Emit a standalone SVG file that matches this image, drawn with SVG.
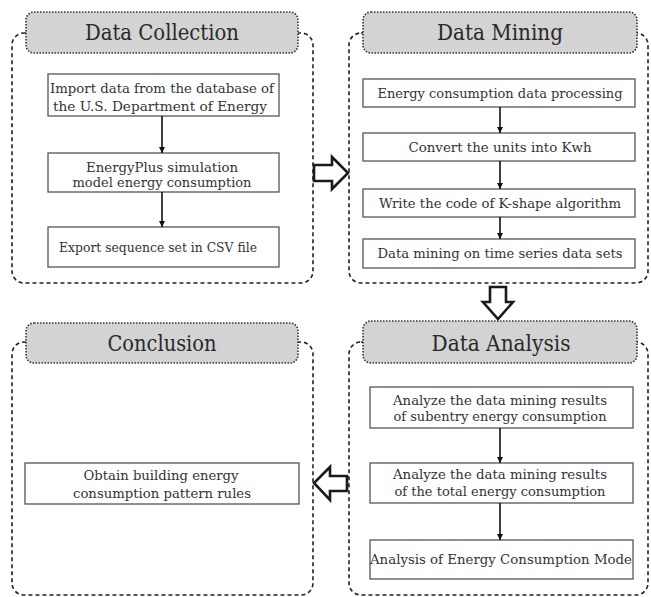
<svg xmlns="http://www.w3.org/2000/svg" width="651" height="597" viewBox="0 0 651 597">
<defs>
<style>
.outer{fill:none;stroke:#222;stroke-width:1.6;stroke-dasharray:4 3}
.hdr{fill:#d3d3d3;stroke:#333;stroke-width:1.6;stroke-dasharray:1.5 1.5}
.box{fill:#fff;stroke:#555;stroke-width:1.3}
.ht{font-family:"DejaVu Serif","Liberation Serif",serif;font-size:22px;fill:#2a2a2a;text-anchor:middle}
.bt{font-family:"DejaVu Serif","Liberation Serif",serif;font-size:13.5px;fill:#333;text-anchor:middle}
.ln{stroke:#111;stroke-width:1.6;fill:none;marker-end:url(#ah)}
.blk{fill:#fff;stroke:#1a1a1a;stroke-width:2.6;stroke-linejoin:miter}
</style>
<marker id="ah" viewBox="0 0 10 10" refX="10" refY="5" markerWidth="6" markerHeight="6" markerUnits="userSpaceOnUse" orient="auto">
<path d="M0,0 L10,5 L0,10 z" fill="#111"/>
</marker>
</defs>

<g id="data-collection">
<rect class="outer" x="12" y="33" width="301" height="250" rx="12"/>
<rect class="hdr" x="26" y="12" width="272" height="41" rx="8"/>
<text class="ht" x="162" y="40" textLength="154" lengthAdjust="spacingAndGlyphs">Data Collection</text>
<rect class="box" x="48" y="74" width="231" height="42"/>
<text class="bt" x="162" y="93" textLength="224" lengthAdjust="spacingAndGlyphs">Import data from the database of</text>
<text class="bt" x="160" y="111" textLength="214" lengthAdjust="spacingAndGlyphs">the U.S. Department of Energy</text>
<rect class="box" x="48" y="153" width="231" height="39"/>
<text class="bt" x="162" y="172" textLength="152" lengthAdjust="spacingAndGlyphs">EnergyPlus simulation</text>
<text class="bt" x="162" y="187" textLength="179" lengthAdjust="spacingAndGlyphs">model energy consumption</text>
<rect class="box" x="48" y="227" width="231" height="40"/>
<text class="bt" x="158" y="252" textLength="198" lengthAdjust="spacingAndGlyphs">Export sequence set in CSV file</text>
</g>

<g id="data-mining">
<rect class="outer" x="349" y="33" width="299" height="250" rx="12"/>
<rect class="hdr" x="363" y="12" width="274" height="41" rx="8"/>
<text class="ht" x="500" y="40" textLength="126" lengthAdjust="spacingAndGlyphs">Data Mining</text>
<rect class="box" x="363" y="79" width="272" height="28"/>
<text class="bt" x="500" y="98" textLength="245" lengthAdjust="spacingAndGlyphs">Energy consumption data processing</text>
<rect class="box" x="363" y="133" width="272" height="28"/>
<text class="bt" x="500" y="152" textLength="183" lengthAdjust="spacingAndGlyphs">Convert the units into Kwh</text>
<rect class="box" x="363" y="189" width="272" height="28"/>
<text class="bt" x="500" y="208" textLength="242" lengthAdjust="spacingAndGlyphs">Write the code of K-shape algorithm</text>
<rect class="box" x="363" y="239" width="272" height="29"/>
<text class="bt" x="500" y="258" textLength="245" lengthAdjust="spacingAndGlyphs">Data mining on time series data sets</text>
</g>

<g id="data-analysis">
<rect class="outer" x="349" y="342" width="299" height="253" rx="12"/>
<rect class="hdr" x="363" y="321" width="274" height="42" rx="8"/>
<text class="ht" x="501" y="351" textLength="139" lengthAdjust="spacingAndGlyphs">Data Analysis</text>
<rect class="box" x="370" y="387" width="263" height="41"/>
<text class="bt" x="500" y="405" textLength="214" lengthAdjust="spacingAndGlyphs">Analyze the data mining results</text>
<text class="bt" x="500" y="421" textLength="213" lengthAdjust="spacingAndGlyphs">of subentry energy consumption</text>
<rect class="box" x="370" y="463" width="263" height="40"/>
<text class="bt" x="500" y="479" textLength="214" lengthAdjust="spacingAndGlyphs">Analyze the data mining results</text>
<text class="bt" x="500" y="496" textLength="211" lengthAdjust="spacingAndGlyphs">of the total energy consumption</text>
<rect class="box" x="370" y="540" width="263" height="39"/>
<text class="bt" x="501" y="564" textLength="262" lengthAdjust="spacingAndGlyphs">Analysis of Energy Consumption Mode</text>
</g>

<g id="conclusion">
<rect class="outer" x="12" y="342" width="301" height="253" rx="12"/>
<rect class="hdr" x="26" y="323" width="272" height="40" rx="8"/>
<text class="ht" x="162" y="351" textLength="109" lengthAdjust="spacingAndGlyphs">Conclusion</text>
<rect class="box" x="25" y="463" width="274" height="41"/>
<text class="bt" x="161" y="480" textLength="155" lengthAdjust="spacingAndGlyphs">Obtain building energy</text>
<text class="bt" x="162" y="498" textLength="178" lengthAdjust="spacingAndGlyphs">consumption pattern rules</text>
</g>

<g id="connectors">
<line class="ln" x1="162" y1="116" x2="162" y2="153"/>
<line class="ln" x1="162" y1="192" x2="162" y2="227"/>
<line class="ln" x1="500" y1="107" x2="500" y2="133"/>
<line class="ln" x1="500" y1="161" x2="500" y2="189"/>
<line class="ln" x1="500" y1="217" x2="500" y2="239"/>
<line class="ln" x1="500" y1="428" x2="500" y2="463"/>
<line class="ln" x1="500" y1="503" x2="500" y2="540"/>
<polygon class="blk" points="314,165 332,165 332,157 348,173 332,189 332,181 314,181"/>
<polygon class="blk" points="490,287 506,287 506,302 513,302 498,319 483,302 490,302"/>
<polygon class="blk" points="347,476 330,476 330,467 314,483 330,500 330,491 347,491"/>
</g>
</svg>
